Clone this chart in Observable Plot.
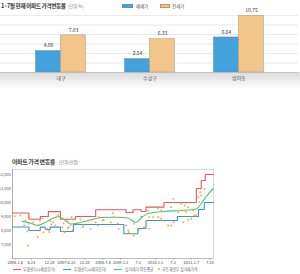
<!DOCTYPE html>
<html><head><meta charset="utf-8">
<script src="https://cdn.jsdelivr.net/npm/d3@7"></script>
<script src="https://cdn.jsdelivr.net/npm/@observablehq/plot@0.6"></script>
<style>
body{margin:0;background:#fff;font-family:"Noto Sans CJK KR","Noto Sans",sans-serif;}
#wrap{position:relative;width:300px;height:274px;overflow:hidden;background:#fff;}
.abs{position:absolute;white-space:nowrap;line-height:1;}
.t1{font-weight:bold;color:#333;font-size:6px;letter-spacing:-0.4px;}
.sm{transform-origin:0 0;transform:scale(0.5);}
.cn{transform-origin:0 0;transform:scale(0.45,0.5);}
.unit{color:#777;font-size:8.4px;}
.lg{font-size:9px;color:#555;}
.lg2{font-size:8.4px;color:#666;}
#strip{position:absolute;left:0;top:72px;width:300px;height:17px;background:linear-gradient(#dadada,#f4f4f4 70%,#fff);}
#top,#bottom{position:absolute;left:0;}
#top{top:8px;}
#bottom{top:165px;}
</style></head><body>
<div id="wrap">
  <div id="strip"></div>
  <div id="top"></div>
  <div id="bottom"></div>
  <div class="abs t1" style="left:1px;top:3px;font-size:5.7px;">1~7월 현재 아파트 가격변동률</div>
  <div class="abs sm unit" style="left:68px;top:4px;">(단위:%)</div>
  <div class="abs" style="left:122px;top:4px;width:11px;height:4px;background:#42a2dc;border:0.5px solid #6d8ea6;box-sizing:border-box;"></div>
  <div class="abs sm lg" style="left:136px;top:3.8px;">매매가</div>
  <div class="abs" style="left:160px;top:4px;width:10px;height:4px;background:#f2c58b;border:0.5px solid #b59873;box-sizing:border-box;"></div>
  <div class="abs sm lg" style="left:172px;top:3.8px;">전세가</div>
  <div class="abs t1" style="left:12px;top:159px;color:#444;">아파트 가격 변동률</div>
  <div class="abs sm unit" style="left:59px;top:160px;">(단위:만원)</div>
  <div class="abs" style="left:13px;top:268.5px;width:8px;height:1.2px;background:#f0555c;"></div>
  <div class="abs cn lg2" style="left:23px;top:267px;">부경산1(시세상한가)</div>
  <div class="abs" style="left:63px;top:268.5px;width:8px;height:1.2px;background:#3f93d8;"></div>
  <div class="abs cn lg2" style="left:74px;top:267px;">부경산1(시세하한가)</div>
  <div class="abs" style="left:114px;top:268.5px;width:8px;height:1.2px;background:#3fcb6e;"></div>
  <div class="abs cn lg2" style="left:125px;top:267px;">실거래가 이동평균</div>
  <div class="abs" style="left:158px;top:268px;width:2px;height:2px;border-radius:1px;background:#f5a536;"></div>
  <div class="abs cn lg2" style="left:162px;top:267px;">국토해양부 실거래가격</div>
</div>
<script>
// ---- top bar chart data ----
const regions = ["대구", "수성구", "범어동"];
const saleChange = [4.06, 2.54, 6.64];     // 매매가
const leaseChange = [7.03, 6.33, 10.75];   // 전세가
const gridStep = 1.8;
const gridMax = 10.8;

// ---- bottom line chart data ----
const tickDates = ["2006-01-06","2006-06-23","2006-12-28","2007-06-22","2007-12-28","2008-07-04","2009-01-02","2009-07-03","2010-01-01","2010-07-02","2011-01-07","2011-07-18"];
const tickLabels = ["2006.1.6","6.23","12.28","2007.6.22","12.28","2008.7.4","2009.1.2","7.3","2010.1.1","7.2","2011.1.7","7.18"];
const yTicks = [7000, 8000, 9000, 10000, 11000, 12000];
const xDomain = ["2005-12-09", "2011-08-25"];
const yDomain = [6000, 12357];

const upperDates = ["2005-12-09","2006-05-28","2006-09-24","2006-12-16","2007-04-20","2007-09-24","2008-04-20","2009-03-01","2009-05-12","2009-08-04","2009-09-24","2010-03-29","2011-02-28","2011-04-20","2011-06-01","2011-08-25"];
const upperValues = [9250, 8800, 9000, 9350, 8800, 9000, 9480, 9290, 9480, 9360, 9670, 10000, 11000, 11570, 12000, 12000];

const lowerDates = ["2005-12-09","2006-05-28","2006-09-24","2006-11-14","2007-01-04","2007-04-20","2007-09-02","2009-02-06","2009-07-01","2009-09-24","2010-08-15","2011-03-22","2011-05-22","2011-08-25"];
const lowerValues = [8250, 8000, 8240, 8070, 8240, 7930, 8430, 7770, 8140, 8715, 9000, 9500, 10000, 10000];

const avgDates = ["2006-03-19","2006-06-10","2006-08-22","2006-11-14","2007-01-26","2007-04-09","2007-06-10","2007-08-04","2007-11-14","2008-02-28","2008-06-10","2008-11-14","2009-03-22","2009-06-10","2009-08-22","2009-10-16","2010-03-29","2010-09-24","2011-02-28","2011-04-20","2011-06-10","2011-08-22"];
const avgValues = [8650, 8535, 8360, 8570, 8860, 9000, 8715, 8460, 8570, 8750, 8930, 8950, 8890, 8570, 9000, 9215, 9360, 9430, 9540, 9930, 10430, 11000];

const tradeDates = ["2006-01-01","2006-02-28","2006-04-10","2006-04-20","2006-05-10","2006-05-20","2006-05-25","2006-06-01","2006-07-12","2006-08-28","2006-09-01","2006-09-20","2006-09-24","2006-10-16","2006-10-26","2006-12-05","2006-12-16","2006-12-28","2007-01-04","2007-01-15","2007-02-05","2007-02-28","2007-03-20","2007-03-30","2007-05-10","2007-05-12","2007-05-22","2007-06-01","2007-07-04","2007-07-06","2007-07-15","2007-08-04","2007-08-14","2007-08-25","2007-10-16","2007-11-14","2007-12-05","2007-12-15","2008-02-06","2008-02-28","2008-04-20","2008-05-12","2008-05-22","2008-07-04","2008-07-12","2008-09-24","2008-10-16","2008-10-26","2008-12-05","2008-12-16","2009-03-01","2009-03-22","2009-04-01","2009-04-20","2009-05-20","2009-05-22","2009-07-12","2009-08-04","2009-09-04","2009-09-24","2009-10-16","2009-10-26","2009-10-28","2009-12-05","2010-01-26","2010-01-28","2010-02-28","2010-03-01","2010-05-12","2010-06-10","2010-06-12","2010-07-04","2010-07-06","2010-08-25","2010-09-24","2010-10-16","2010-10-26","2010-11-01","2010-11-14","2010-12-05","2010-12-06","2011-01-06","2011-01-26","2011-02-06","2011-02-28","2011-03-22","2011-04-01","2011-04-10","2011-04-20","2011-05-22"];
const tradeValues = [9020,9070,8360,8715,7930,6930,8480,8950,8590,7520,8360,8715,8070,8860,7880,8120,8000,7880,8715,8430,8590,8360,9020,9120,8240,7950,8500,7880,8665,8160,8235,8400,8950,8000,8500,8800,8235,8360,8715,8120,8590,8360,8950,8715,8760,8590,9235,8950,8500,8120,8360,8000,7880,7765,8480,7640,8000,9000,8235,8590,9430,8140,8950,8950,9550,8950,8840,9430,8360,9665,8360,10265,8590,9310,9930,8590,9430,9790,9310,9665,8760,8840,9430,9070,9070,10380,10020,10735,10500,10980];

// ---- build tables ----
const FONT = '"Noto Sans CJK KR","Noto Sans",sans-serif';
const saleRows = regions.map((r, i) => ({region: r, value: saleChange[i]}));
const leaseRows = regions.map((r, i) => ({region: r, value: leaseChange[i]}));
const parse = s => new Date(s + "T00:00:00Z");
const toRows = (ds, vs) => ds.map((d, i) => ({date: parse(d), value: vs[i]}));
const upper = toRows(upperDates, upperValues);
const lower = toRows(lowerDates, lowerValues);
const avg = toRows(avgDates, avgValues);
const trades = toRows(tradeDates, tradeValues);
const tickDateObjs = tickDates.map(parse);
const labelMap = new Map(tickDateObjs.map((d, i) => [+d, tickLabels[i]]));

const topChart = Plot.plot({
  width: 300, height: 80,
  marginLeft: 0, marginRight: 2, marginTop: 7, marginBottom: 16,
  style: {fontFamily: FONT, background: "transparent", overflow: "visible"},
  x: {domain: regions, paddingInner: 0, paddingOuter: 0.174, axis: null, label: null},
  y: {domain: [0, gridMax], axis: null, label: null},
  marks: [
    Plot.ruleY(d3.range(gridStep, gridMax + 0.01, gridStep), {stroke: "#dcdcdc", strokeWidth: 0.6}),
    Plot.barY(saleRows, {x: "region", y: "value", fill: "#42a2dc", stroke: "#71879a", strokeWidth: 0.5, insetLeft: 19.5, insetRight: 44.5}),
    Plot.barY(leaseRows, {x: "region", y: "value", fill: "#f2c58b", stroke: "#a8957c", strokeWidth: 0.5, insetLeft: 44.5, insetRight: 19.5}),
    Plot.text(saleRows, {x: "region", y: "value", text: d => d.value.toFixed(2), dx: -12.5, dy: -5.5, fontSize: 5, fill: "#333"}),
    Plot.text(leaseRows, {x: "region", y: "value", text: d => d.value.toFixed(2), dx: 12.5, dy: -5.5, fontSize: 5, fill: "#333"}),
    Plot.ruleY([0], {stroke: "#b5b5b5", strokeWidth: 0.6}),
    Plot.axisX({tickSize: 0, tickPadding: 4, fontSize: 5, fill: "#555", label: null})
  ]
});
document.getElementById("top").append(topChart);

const bottomChart = Plot.plot({
  width: 300, height: 101,
  marginLeft: 12, marginRight: 87, marginTop: 4, marginBottom: 8,
  style: {fontFamily: FONT, background: "transparent", overflow: "visible"},
  x: {type: "utc", domain: xDomain.map(parse), label: null},
  y: {domain: yDomain, label: null},
  marks: [
    Plot.frame({stroke: "#cfcfcf", strokeWidth: 0.8}),
    Plot.axisY({ticks: yTicks, tickFormat: d3.format(","), tickSize: 0, tickPadding: 1.5, fontSize: 4, fill: "#555", label: null}),
    Plot.axisX({ticks: tickDateObjs, tickFormat: d => labelMap.get(+d), tickSize: 1.5, tickPadding: 0.8, fontSize: 4, fill: "#444", stroke: "#999", label: null}),
    Plot.ruleX([parse(xDomain[0])], {stroke: "#9a9a9a", strokeWidth: 0.7}),
    Plot.ruleY([yDomain[0]], {stroke: "#b0b0b0", strokeWidth: 0.7}),
    Plot.line(lower, {x: "date", y: "value", curve: "step-after", stroke: "#3f93d8", strokeWidth: 1.1}),
    Plot.line(upper, {x: "date", y: "value", curve: "step-after", stroke: "#f0555c", strokeWidth: 1.1}),
    Plot.line(avg, {x: "date", y: "value", curve: "monotone-x", stroke: "#3fcb6e", strokeWidth: 1.1}),
    Plot.dot(trades, {x: "date", y: "value", r: 0.9, fill: "#f5a536", stroke: "none"})
  ]
});
document.getElementById("bottom").append(bottomChart);
</script>
</body></html>
